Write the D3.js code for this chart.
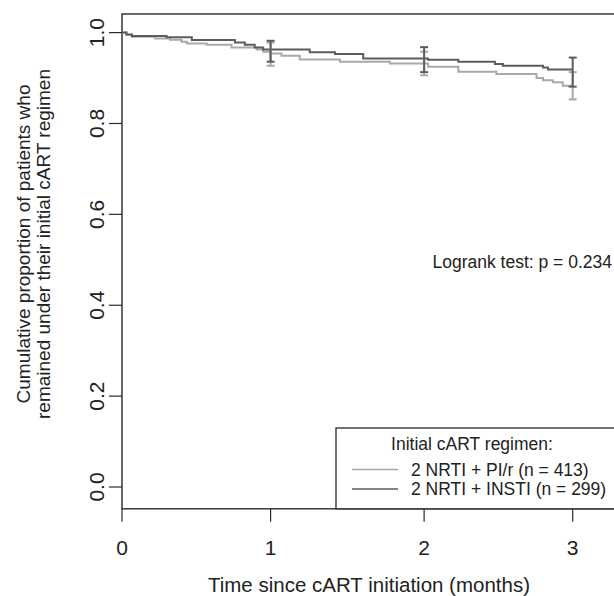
<!DOCTYPE html>
<html>
<head>
<meta charset="utf-8">
<script src="https://cdn.jsdelivr.net/npm/d3@7"></script>
<style>
  body { margin: 0; background: #fff; }
  svg { display: block; font-family: "Liberation Sans", Arial, sans-serif; }
</style>
</head>
<body>
<svg id="chart" width="614" height="596"></svg>
<script>
// time axis is in days, ticks are labelled in months
var monthTickDays = [0, 30, 61, 91];
var monthTickLabels = ["0", "1", "2", "3"];
var survTicks = [0, 0.2, 0.4, 0.6, 0.8, 1.0];

// 2 NRTI + PI/r (light)
var piDays = [0, 0.9, 2.0, 6.7, 9.7, 12.0, 13.1, 17.1, 22.1, 27.2, 28.5, 29.9, 32.2, 35.9, 44.0, 54.1, 61.8, 67.9, 75.6, 83.7, 85.0, 87.0, 89.0, 91];
var piSurv = [1, 0.995, 0.991, 0.987, 0.984, 0.980, 0.976, 0.973, 0.967, 0.963, 0.958, 0.954, 0.949, 0.941, 0.936, 0.932, 0.925, 0.914, 0.909, 0.900, 0.895, 0.891, 0.883, 0.883];

// 2 NRTI + INSTI (dark)
var instiDays = [0, 0.9, 2.0, 9.0, 14.1, 22.8, 24.8, 26.8, 28.5, 37.9, 43.0, 48.7, 61.8, 67.9, 75.3, 76.9, 85.0, 86.0, 91];
var instiSurv = [1, 0.996, 0.9925, 0.9895, 0.9837, 0.978, 0.973, 0.967, 0.963, 0.957, 0.953, 0.943, 0.940, 0.936, 0.931, 0.927, 0.923, 0.919, 0.919];

// confidence bars at 1, 2, 3 months
var ciDays = [30, 61, 91];
var piLower = [0.927, 0.906, 0.853];
var piUpper = [0.978, 0.958, 0.913];
var instiLower = [0.936, 0.913, 0.881];
var instiUpper = [0.982, 0.968, 0.945];

var legendTitle = "Initial cART regimen:";
var legendLabels = ["2 NRTI + PI/r (n = 413)", "2 NRTI + INSTI (n = 299)"];
var logrankText = "Logrank test: p = 0.234";

var lightCol = "#a9a9a9";
var darkCol = "#5c5c5c";
var axisCol = "#2a2a2a";

var svg = d3.select("#chart");

var x = d3.scaleLinear().domain([0, 91]).range([122, 572.7]);
var y = d3.scaleLinear().domain([0, 1]).range([487, 32.6]);

// plot region limits (xaxs "i" on the left, right edge runs off the picture)
var plotLeft = x(0), plotRight = x(100), plotTop = y(1.041), plotBottom = y(-0.048);

// frame
svg.append("rect")
    .attr("x", plotLeft).attr("y", plotTop)
    .attr("width", plotRight - plotLeft).attr("height", plotBottom - plotTop)
    .attr("fill", "none").attr("stroke", axisCol).attr("stroke-width", 1.4);

// y axis
var yAxis = svg.append("g");
yAxis.selectAll("line").data(survTicks).enter().append("line")
    .attr("x1", plotLeft - 13).attr("x2", plotLeft)
    .attr("y1", d => y(d)).attr("y2", d => y(d))
    .attr("stroke", axisCol).attr("stroke-width", 1.2);
yAxis.selectAll("text").data(survTicks).enter().append("text")
    .attr("transform", d => "translate(" + 96 + "," + y(d) + ") rotate(-90)")
    .attr("text-anchor", "middle").attr("dominant-baseline", "central")
    .attr("font-size", 21).attr("fill", "#222")
    .text(d => d.toFixed(1));

// x axis
var xAxis = svg.append("g");
xAxis.selectAll("line").data(monthTickDays).enter().append("line")
    .attr("x1", d => x(d)).attr("x2", d => x(d))
    .attr("y1", plotBottom).attr("y2", plotBottom + 13)
    .attr("stroke", axisCol).attr("stroke-width", 1.2);
xAxis.selectAll("text").data(monthTickDays).enter().append("text")
    .attr("x", d => x(d)).attr("y", 555)
    .attr("text-anchor", "middle")
    .attr("font-size", 21).attr("fill", "#222")
    .text((d, i) => monthTickLabels[i]);

svg.append("text")
    .attr("x", 369).attr("y", 592)
    .attr("text-anchor", "middle").attr("font-size", 20.5).attr("fill", "#222")
    .text("Time since cART initiation (months)");

var yTitle = svg.append("text")
    .attr("transform", "translate(0,244) rotate(-90)")
    .attr("text-anchor", "middle").attr("font-size", 19).attr("fill", "#222");
yTitle.append("tspan").attr("x", 0).attr("y", 30).text("Cumulative proportion of patients who");
yTitle.append("tspan").attr("x", 0).attr("y", 50).text("remained under their initial cART regimen");

// step curves
var stepLine = d3.line()
    .x(d => x(d[0]))
    .y(d => y(d[1]))
    .curve(d3.curveStepAfter);

function drawCurve (days, surv, col) {
    svg.append("path")
        .datum(days.map((d, i) => [d, surv[i]]))
        .attr("d", stepLine)
        .attr("fill", "none").attr("stroke", col).attr("stroke-width", 2);
}

function drawBars (lower, upper, col) {
    var g = svg.append("g").attr("stroke", col).attr("stroke-width", 2);
    ciDays.forEach(function (d, i) {
        var cx = x(d);
        g.append("line").attr("x1", cx).attr("x2", cx).attr("y1", y(lower[i])).attr("y2", y(upper[i]));
        g.append("line").attr("x1", cx - 4).attr("x2", cx + 4).attr("y1", y(lower[i])).attr("y2", y(lower[i]));
        g.append("line").attr("x1", cx - 4).attr("x2", cx + 4).attr("y1", y(upper[i])).attr("y2", y(upper[i]));
    });
}

drawCurve(piDays, piSurv, lightCol);
drawCurve(instiDays, instiSurv, darkCol);
drawBars(piLower, piUpper, lightCol);
drawBars(instiLower, instiUpper, darkCol);

// logrank annotation
svg.append("text")
    .attr("x", 612).attr("y", 268)
    .attr("text-anchor", "end").attr("font-size", 17.5).attr("fill", "#222")
    .text(logrankText);

// legend
var lg = svg.append("g");
lg.append("rect")
    .attr("x", 336).attr("y", 428)
    .attr("width", 300).attr("height", plotBottom - 428)
    .attr("fill", "#fff").attr("stroke", axisCol).attr("stroke-width", 1.3);
lg.append("text")
    .attr("x", 472).attr("y", 444).attr("dominant-baseline", "central")
    .attr("text-anchor", "middle").attr("font-size", 17.5).attr("fill", "#222")
    .text(legendTitle);
[lightCol, darkCol].forEach(function (col, i) {
    var ly = 469.5 + i * 19.5;
    lg.append("line").attr("x1", 352).attr("x2", 398).attr("y1", ly).attr("y2", ly)
        .attr("stroke", col).attr("stroke-width", 1.6);
    lg.append("text").attr("x", 411).attr("y", ly).attr("dominant-baseline", "central")
        .attr("font-size", 17.5).attr("fill", "#222")
        .text(legendLabels[i]);
});
</script>
</body>
</html>
